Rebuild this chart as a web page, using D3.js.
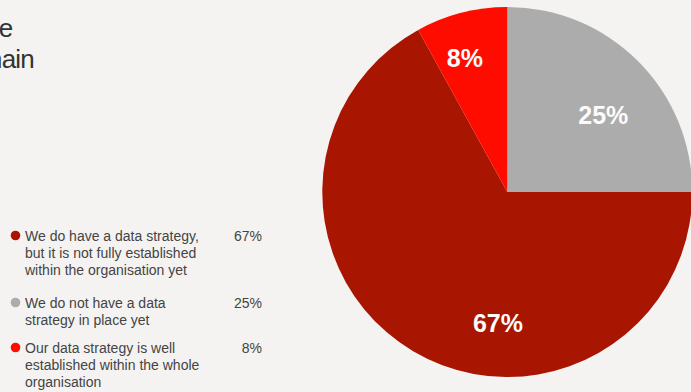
<!DOCTYPE html>
<html>
<head>
<meta charset="utf-8">
<script src="https://cdn.jsdelivr.net/npm/d3@7"></script>
<style>
  html, body { margin: 0; padding: 0; background: #f4f3f1; }
  svg { display: block; font-family: "Liberation Sans", Arial, Helvetica, sans-serif; }
</style>
</head>
<body>
<svg id="chart" width="691" height="392"></svg>
<script>
// Survey answers (legend order)
const categories = [
  ["We do have a data strategy,", "but it is not fully established", "within the organisation yet"],
  ["We do not have a data", "strategy in place yet"],
  ["Our data strategy is well", "established within the whole", "organisation"]
];
const values = [67, 25, 8];
const colors = ["#a81500", "#acacac", "#ff0c00"];
// Order in which slices are laid out clockwise from 12 o'clock
const sliceOrder = [1, 0, 2];
// Visible tail of the heading lines
const titleLines = ["e", "main"];

const W = 691, H = 392;
const svg = d3.select("#chart");

// Heading (runs off the left edge)
svg.selectAll("text.title")
  .data(titleLines)
  .join("text")
  .attr("class", "title")
  .attr("x", (d, i) => i === 0 ? 12.5 : 34)
  .attr("y", (d, i) => 36.5 + i * 31)
  .attr("text-anchor", "end")
  .attr("font-size", 26)
  .attr("letter-spacing", -0.8)
  .attr("fill", "#333")
  .text(d => d);

// Pie
const cx = 507.3, cy = 192, R = 185;
const pieData = d3.pie().sort(null).value(i => values[i])(sliceOrder);
const arc = d3.arc().innerRadius(0).outerRadius(R);

const g = svg.append("g").attr("transform", `translate(${cx},${cy})`);
g.selectAll("path")
  .data(pieData)
  .join("path")
  .attr("d", arc)
  .attr("fill", d => colors[d.data]);

// Label placement inside each slice: fraction along the sweep and of the radius
const labelPlace = { 0: [0.39, 0.71], 1: [0.57, 0.665], 2: [0.39, 0.76] };
g.selectAll("text.val")
  .data(pieData)
  .join("text")
  .attr("class", "val")
  .attr("transform", d => {
    const [t, k] = labelPlace[d.data];
    const a = d.startAngle + t * (d.endAngle - d.startAngle);
    return `translate(${Math.sin(a) * k * R},${-Math.cos(a) * k * R})`;
  })
  .attr("text-anchor", "middle")
  .attr("dy", "0.36em")
  .attr("font-size", 25)
  .attr("font-weight", "bold")
  .attr("fill", "#fbfbfb")
  .text(d => values[d.data] + "%");

// Legend
const lineH = 17, gaps = [16, 11];
let y = 241;
const starts = categories.map((lines, i) => {
  const s = y;
  y += lines.length * lineH + (gaps[i] || 0);
  return s;
});

const leg = svg.selectAll("g.leg")
  .data(categories)
  .join("g")
  .attr("class", "leg")
  .attr("transform", (d, i) => `translate(0,${starts[i]})`);

leg.append("circle")
  .attr("cx", 15.5)
  .attr("cy", -5.5)
  .attr("r", 4.8)
  .attr("fill", (d, i) => colors[i]);

leg.each(function (lines) {
  d3.select(this).selectAll("text.lbl")
    .data(lines)
    .join("text")
    .attr("class", "lbl")
    .attr("x", 25)
    .attr("y", (l, j) => j * lineH)
    .attr("font-size", 14)
    .attr("fill", "#444")
    .text(l => l);
});

leg.append("text")
  .attr("x", 262)
  .attr("text-anchor", "end")
  .attr("font-size", 14)
  .attr("fill", "#444")
  .text((d, i) => values[i] + "%");
</script>
</body>
</html>
